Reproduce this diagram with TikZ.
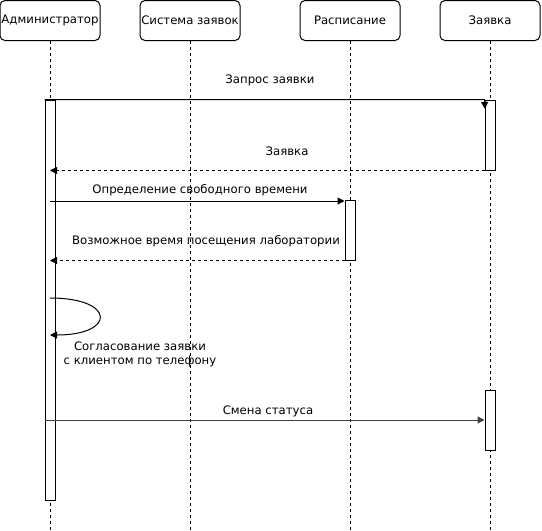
\documentclass[tikz,border=0pt]{standalone}
\usepackage{fontspec}
\setmainfont{DejaVu Sans}
\usetikzlibrary{arrows.meta}

\tikzset{
  actor/.style={draw,rounded corners=5pt,minimum width=100pt,minimum height=40pt,inner sep=0pt,font=\fontsize{11.7}{14}\selectfont},
  lifeline/.style={dash pattern=on 3pt off 3pt},
  bar/.style={draw,fill=white,minimum width=10pt,inner sep=0pt},
  msg/.style={-{Triangle[length=7pt,width=7pt]}},
  reply/.style={msg,dash pattern=on 3pt off 3pt},
  lbl/.style={font=\fontsize{11.7}{14}\selectfont,inner sep=0pt}
}

\begin{document}
\begin{tikzpicture}[x=1pt,y=1pt,yscale=-1,line width=1pt]
\useasboundingbox (0,0) rectangle (542,531);

% Actors
\node[actor] (adm) at (50,20.5) {Администратор};
\node[actor] (sys) at (190,20.5) {Система заявок};
\node[actor] (sch) at (350,20.5) {Расписание};
\node[actor] (req) at (490,20.5) {Заявка};

% Lifelines
\foreach \n/\x in {adm/50,sys/190,sch/350,req/490}{
  \coordinate (\n-end) at (\x,531);
  \draw[lifeline] (\n.south) -- (\n-end);
}

% Activation bars
\node[bar,minimum height=400pt] (admbar) at (50,300) {};
\node[bar,minimum height=70pt] (reqbar1) at (490,135) {};
\node[bar,minimum height=60pt] (schbar) at (350,230) {};
\node[bar,minimum height=60pt] (reqbar2) at (490,420) {};

% Messages
\coordinate (reqtip) at (485,109);
\draw[msg] (admbar.north west) -- (reqbar1.north west) -- (reqtip);
\node[lbl] (m1) at (270,80) {Запрос заявки};

\draw[reply] (reqbar1.south west) -- (admbar.center |- reqbar1.south);
\node[lbl] (m2) at (287,151) {Заявка};

\coordinate (s3) at (50,201);
\draw[msg] (s3) -- (schbar.west |- s3);
\node[lbl] (m3) at (200,190) {Определение свободного времени};

\draw[reply] (schbar.south west) -- (admbar.center |- schbar.south);
\node[lbl] (m4) at (206,241) {Возможное время посещения лаборатории};

% Self message
\coordinate (l1) at (50,298);
\coordinate (l2) at (50,335);
\draw[msg] (l1) .. controls (116,298) and (116,335) .. (l2);
\node[lbl,align=center] (m5) at (140,354) {Согласование заявки\\с клиентом по телефону};

\coordinate (s6) at (45,420);
\draw[msg,black!75] (s6) -- (reqbar2.west);
\node[lbl] (m6) at (268,411) {Смена статуса};

\end{tikzpicture}
\end{document}
